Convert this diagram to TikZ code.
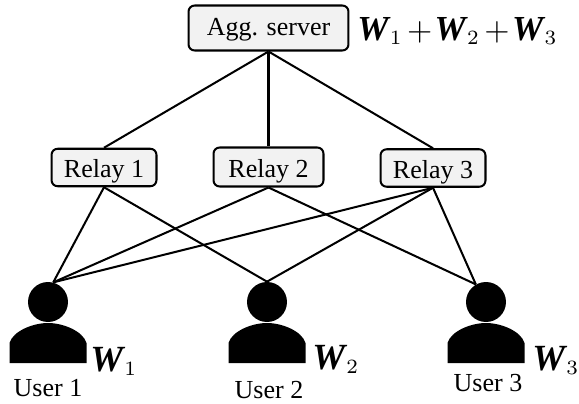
\documentclass[tikz,border=0pt]{standalone}
\usepackage{amsmath}
\usepackage{graphicx}
\usepackage[no-math]{fontspec}
\setmainfont{Liberation Serif}
\usepackage{tikz}

% bold W with its index, and the wide plus of the sum
\newcommand{\weightW}[2]{{\fontsize{#1}{24}\selectfont\textbf{\textit{W}}}\hspace{-0.5pt}\scalebox{1.65}{$_{#2}$}}
\newcommand{\weightplus}{\hspace{2.4pt}\scalebox{1.85}{$+$}\hspace{1.4pt}}

\tikzset{
	box/.style={draw, line width=1.15pt, fill=black!5, rounded corners=3.5pt, inner sep=0pt, text height=11.6pt, text depth=0pt, font=\fontsize{14.8}{17}\selectfont},
	link/.style={line width=1.15pt},
	head/.style={circle, fill=black, inner sep=0pt, minimum size=0.8cm},
	usertext/.style={font=\fontsize{14.8}{17}\selectfont, inner sep=0pt},
	weight/.style={inner sep=0pt},
}

\begin{document}
\begin{tikzpicture}[x=0.02cm, y=-0.02cm]
	
	\useasboundingbox (0,0) rectangle (579,403);
	
	\node[box, minimum width=3.2cm, minimum height=0.9cm, text height=9pt] (server) at (268.5,28) {Agg. server};
	\node[box, minimum width=2.1cm, minimum height=0.75cm] (relay1) at (104,167.5) {Relay 1};
	\node[box, minimum width=2.2cm, minimum height=0.78cm] (relay2) at (268.5,167) {Relay 2};
	\node[box, minimum width=2.1cm, minimum height=0.75cm] (relay3) at (433,168) {Relay 3};
	
	\node[head] (user1) at (48,302) {};
	\node[head] (user2) at (267,302) {};
	\node[head] (user3) at (486,302) {};
	
	% bodies under the heads
	\foreach \x in {48,267,486} {
		\fill (\x-38.5,363) -- (\x-38.5,343) .. controls (\x-35,331) and (\x-15,323) .. (\x,323)
			.. controls (\x+15,323) and (\x+35,331) .. (\x+38.5,343) -- (\x+38.5,363) -- cycle;
	}
	
	\foreach \r in {1,2,3}
		\draw[link] (server.south) -- (relay\r.north);
	
	\draw[link] (relay1.south) -- (user1.75);
	\draw[link] (relay1.south) -- (user2.north);
	\draw[link] (relay2.south) -- (user1.75);
	\draw[link] (relay2.south) -- (user3.120);
	\draw[link] (relay3.south) -- (user1.75);
	\draw[link] (relay3.south) -- (user2.north);
	\draw[link] (relay3.south) -- (user3.120);
	
	\node[usertext] (name1) at (48,388) {User 1};
	\node[usertext] (name2) at (269,390) {User 2};
	\node[usertext] (name3) at (488,383) {User 3};
	
	\node[weight, anchor=base west] (sum) at (357,40) {\weightW{20}{1}\weightplus\weightW{20}{2}\weightplus\weightW{20}{3}};
	\node[weight, anchor=base west] (w1) at (90,371) {\weightW{21}{1}};
	\node[weight, anchor=base west] (w2) at (312,369) {\weightW{21}{2}};
	\node[weight, anchor=base west] (w3) at (532,370) {\weightW{21}{3}};
	
\end{tikzpicture}
\end{document}
